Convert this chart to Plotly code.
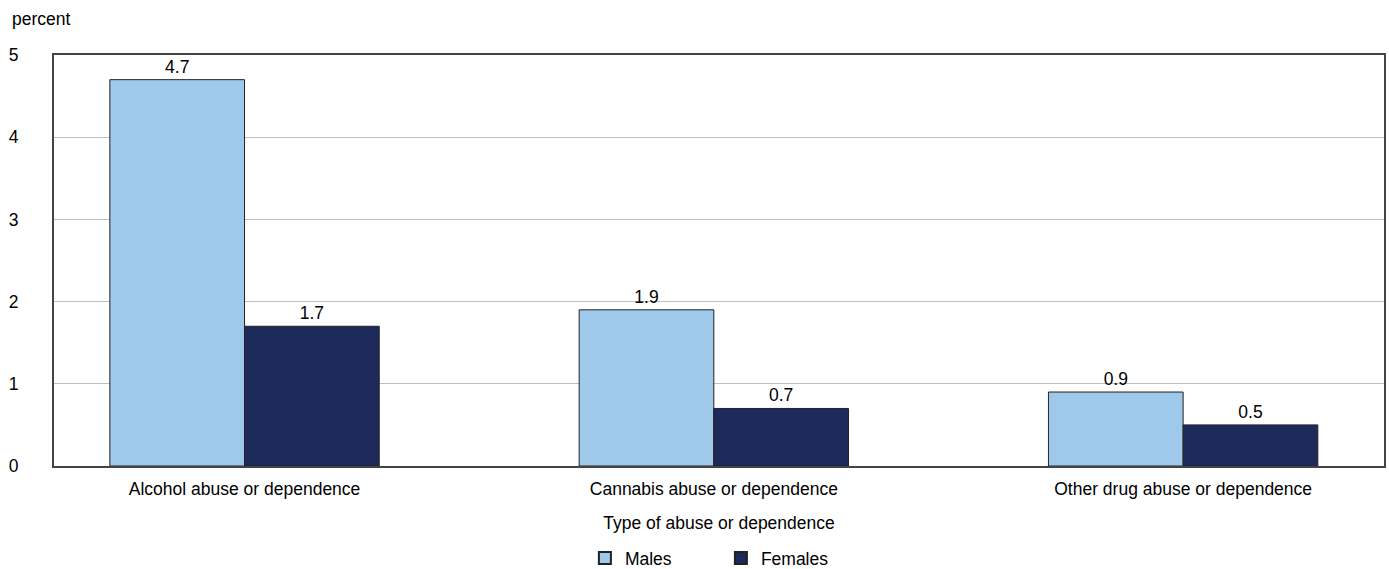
import plotly.graph_objects as go

categories = ["Alcohol abuse or dependence", "Cannabis abuse or dependence", "Other drug abuse or dependence"]
males = [4.7, 1.9, 0.9]
females = [1.7, 0.7, 0.5]
y_ticks = [0, 1, 2, 3, 4, 5]

FONT = "Liberation Sans, Arial, sans-serif"
FS = 17.5
x_pos = list(range(len(categories)))

fig = go.Figure()
fig.add_trace(go.Bar(
    x=x_pos, y=males, name="Males",
    marker=dict(color="#9FC9EA", line=dict(color="#222222", width=1)),
    text=[f"{v:.1f}" for v in males], textposition="outside",
    textfont=dict(size=FS, color="#000000"), cliponaxis=False,
))
fig.add_trace(go.Bar(
    x=x_pos, y=females, name="Females",
    marker=dict(color="#1F2A5C", line=dict(color="#222222", width=1)),
    text=[f"{v:.1f}" for v in females], textposition="outside",
    textfont=dict(size=FS, color="#000000"), cliponaxis=False,
))

fig.update_layout(
    width=1389, height=569,
    margin=dict(l=54, r=3, t=55, b=103),
    paper_bgcolor="white", plot_bgcolor="white",
    font=dict(family=FONT, size=FS, color="#000000"),
    barmode="group", bargap=0.426, bargroupgap=0,
    showlegend=True,
    legend=dict(orientation="h", xref="container", yref="container",
                x=0.519, xanchor="center", y=0.019, yanchor="middle",
                font=dict(size=FS), entrywidth=91, itemsizing="constant"),
    xaxis=dict(
        range=[-0.406, 2.428], tickmode="array", tickvals=x_pos, ticktext=categories,
        showgrid=False, showline=True, linecolor="#444444", linewidth=2, mirror=True,
        ticks="", zeroline=False, ticklabelstandoff=6,
        title=dict(text="Type of abuse or dependence", font=dict(size=FS), standoff=19),
    ),
    yaxis=dict(
        range=[0, 5], tickvals=y_ticks, showgrid=True, gridcolor="#BFBFBF", gridwidth=1,
        showline=True, linecolor="#444444", linewidth=2, mirror=True,
        zeroline=False, ticks="", ticklabelstandoff=30,
    ),
    annotations=[dict(text="percent", xref="paper", yref="paper", x=-0.033, y=1.0,
                      xanchor="left", yanchor="bottom", yshift=24, showarrow=False,
                      font=dict(size=FS))],
)

fig.write_html("out.html")
